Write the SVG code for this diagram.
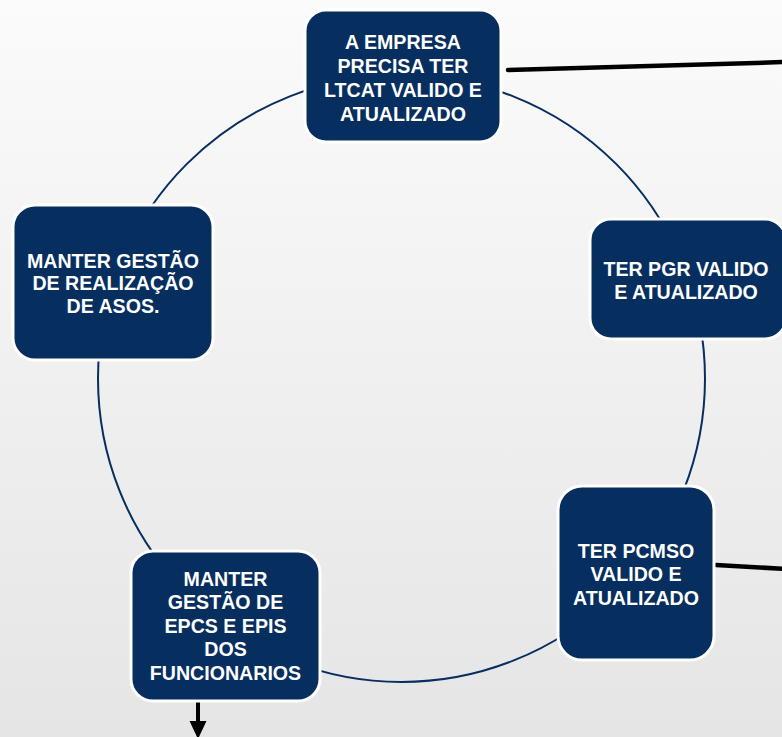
<svg xmlns="http://www.w3.org/2000/svg" width="782" height="737" viewBox="0 0 782 737">
<defs>
<linearGradient id="bg" x1="0" y1="0" x2="0" y2="1">
<stop offset="0" stop-color="#FBFBFB"/>
<stop offset="1" stop-color="#E5E5E5"/>
</linearGradient>
</defs>
<style>
.node rect{fill:#062E5F;stroke:#FFFFFF;stroke-width:3}
.node text{fill:#FFFFFF;font-family:"Liberation Sans",Arial,sans-serif;font-weight:bold;font-size:19.6px;text-anchor:middle}
.ring{fill:none;stroke:#062E5F;stroke-width:2}
.link{fill:none;stroke:#000;stroke-width:4.5;stroke-linecap:round}
</style>
<rect x="0" y="0" width="782" height="737" fill="url(#bg)"/>
<circle class="ring" cx="401.5" cy="378.5" r="303.5"/>
<g id="connectors">
<line class="link" x1="508" y1="70" x2="786" y2="62"/>
<line class="link" x1="716" y1="565" x2="786" y2="569"/>
<line x1="198" y1="695" x2="198" y2="724" stroke="#000" stroke-width="4"/>
<path d="M189.5,721 L206.5,721 L198,739 Z" fill="#000"/>
</g>
<g id="node-ltcat" class="node">
<rect x="305" y="10" width="196" height="132" rx="21"/>
<text x="403" y="48.5">A EMPRESA</text>
<text x="403" y="72.5">PRECISA TER</text>
<text x="403" y="96.5">LTCAT VALIDO E</text>
<text x="403" y="120.5">ATUALIZADO</text>
</g>
<g id="node-pgr" class="node">
<rect x="590" y="219" width="196" height="120" rx="21"/>
<text x="686" y="275.5">TER PGR VALIDO</text>
<text x="686" y="298.5">E ATUALIZADO</text>
</g>
<g id="node-pcmso" class="node">
<rect x="558" y="486" width="156" height="174" rx="24"/>
<text x="636" y="557.5">TER PCMSO</text>
<text x="636" y="581">VALIDO E</text>
<text x="636" y="604.5">ATUALIZADO</text>
</g>
<g id="node-epis" class="node">
<rect x="131" y="551" width="189" height="150" rx="22"/>
<text x="225.5" y="586">MANTER</text>
<text x="225.5" y="609">GESTÃO DE</text>
<text x="225.5" y="632.5">EPCS E EPIS</text>
<text x="225.5" y="656">DOS</text>
<text x="225.5" y="679.5">FUNCIONARIOS</text>
</g>
<g id="node-asos" class="node">
<rect x="13" y="205" width="200" height="155" rx="22"/>
<text x="113" y="267.5">MANTER GESTÃO</text>
<text x="113" y="290">DE REALIZAÇÃO</text>
<text x="113" y="312.5">DE ASOS.</text>
</g>
</svg>
